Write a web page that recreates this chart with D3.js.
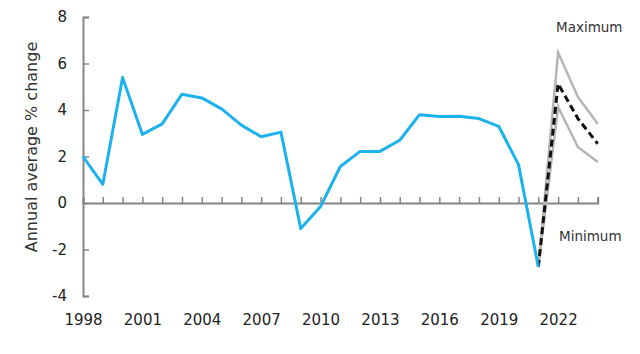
<!DOCTYPE html>
<html>
<head>
<meta charset="utf-8">
<script src="https://cdn.jsdelivr.net/npm/d3@7"></script>
<style>
  body { margin: 0; background: #fff; }
  text { font-family: "DejaVu Sans", Verdana, sans-serif; }
</style>
</head>
<body>
<svg id="chart" width="640" height="354"></svg>
<script>
// actual annual average % change
var years = d3.range(1998, 2022);
var actual = [2.0, 0.8, 5.4, 2.95, 3.4, 4.68, 4.52, 4.05, 3.35, 2.85, 3.05, -1.1, -0.15, 1.57, 2.22, 2.22, 2.7, 3.8, 3.72, 3.73, 3.63, 3.3, 1.65, -2.75];

// forecast scenarios 2021-2024
var forecastYears = [2021, 2022, 2023, 2024];
var forecastCentral = [-2.75, 5.13, 3.63, 2.55];
var forecastMax = [-2.75, 6.47, 4.56, 3.41];
var forecastMin = [-2.75, 4.13, 2.41, 1.76];

var yTicks = [-4, -2, 0, 2, 4, 6, 8];
var xLabelYears = [1998, 2001, 2004, 2007, 2010, 2013, 2016, 2019, 2022];

var svg = d3.select("#chart");
var x = d3.scaleLinear().domain([1998, 2024]).range([83, 597.7]);
var y = d3.scaleLinear().domain([-4, 8]).range([296, 17]);

var axisColor = "#858585";

// y axis, ticks pointing into the plot
var gy = svg.append("g")
    .attr("transform", "translate(" + x(1998) + ",0)")
    .call(d3.axisLeft(y).tickValues(yTicks).tickSize(-6).tickPadding(16).tickFormat(d => String(d)));
gy.select(".domain").attr("stroke", axisColor).attr("stroke-width", 2);
gy.selectAll(".tick line").attr("stroke", axisColor).attr("stroke-width", 1.5);
gy.selectAll(".tick text").attr("font-size", 15).attr("fill", "#222").attr("font-family", "DejaVu Sans");

// zero line with yearly ticks
var gx = svg.append("g")
    .attr("transform", "translate(0," + y(0) + ")")
    .call(d3.axisBottom(x).tickValues(d3.range(1998, 2025)).tickSize(-6).tickSizeOuter(-6).tickFormat(""));
gx.select(".domain").attr("stroke", axisColor).attr("stroke-width", 2);
gx.selectAll(".tick line").attr("stroke", axisColor).attr("stroke-width", 1.5);

// year labels along the bottom
var gl = svg.append("g")
    .attr("transform", "translate(0,296)")
    .call(d3.axisBottom(x).tickValues(xLabelYears).tickSize(0).tickPadding(18).tickFormat(d => String(d)));
gl.select(".domain").remove();
gl.selectAll(".tick text").attr("font-size", 15).attr("fill", "#222").attr("font-family", "DejaVu Sans");

// axis title
svg.append("text")
    .attr("transform", "translate(37,147) rotate(-90)")
    .attr("text-anchor", "middle")
    .attr("font-size", 16)
    .attr("fill", "#333")
    .text("Annual average % change");

var line = d3.line().x(d => x(d[0])).y(d => y(d[1]));

function pairs(xs, vs) { return xs.map((v, i) => [v, vs[i]]); }

svg.append("path")
    .attr("d", line(pairs(forecastYears, forecastMax)))
    .attr("fill", "none").attr("stroke", "#b5b5b5").attr("stroke-width", 2.5);
svg.append("path")
    .attr("d", line(pairs(forecastYears, forecastMin)))
    .attr("fill", "none").attr("stroke", "#b5b5b5").attr("stroke-width", 2.5);
svg.append("path")
    .attr("d", line(pairs(forecastYears, forecastCentral)))
    .attr("fill", "none").attr("stroke", "#111").attr("stroke-width", 3)
    .attr("stroke-dasharray", "7,4");

svg.append("path")
    .attr("d", line(pairs(years, actual)))
    .attr("fill", "none").attr("stroke", "#1cb2ec").attr("stroke-width", 3)
    .attr("stroke-linejoin", "round");

svg.append("text").attr("x", 556).attr("y", 32)
    .attr("font-size", 13.5).attr("fill", "#333").text("Maximum");
svg.append("text").attr("x", 559).attr("y", 241)
    .attr("font-size", 13.5).attr("fill", "#333").text("Minimum");
</script>
</body>
</html>
